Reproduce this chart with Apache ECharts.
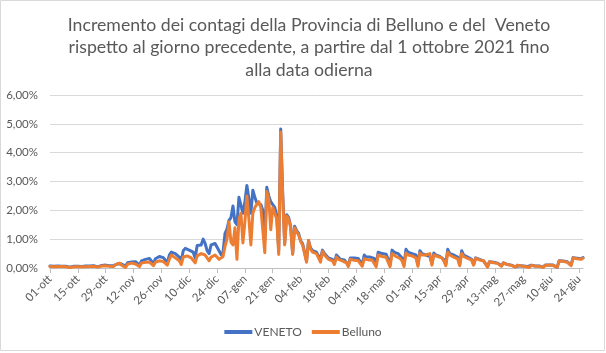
<!DOCTYPE html>
<html>
<head>
<meta charset="utf-8">
<script src="https://cdn.jsdelivr.net/npm/echarts@6/dist/echarts.min.js"></script>
<style>
html,body{margin:0;padding:0;background:#fff;}
#c{width:606px;height:353px;}
</style>
</head>
<body>
<div id="c"></div>
<script>
// Month names (Italian abbreviations) and number of days, from 1 October 2021 to 26 June 2022
const monthNames = ['ott','nov','dic','gen','feb','mar','apr','mag','giu'];
const monthDays  = [31, 30, 31, 31, 28, 31, 30, 31, 26];

// Daily increment (%) — VENETO
const veneto = [
0.07,0.06,0.06,0.03,0.07,0.07,0.06,
0.06,0.06,0.05,0.03,0.06,0.06,0.06,
0.06,0.06,0.05,0.03,0.07,0.07,0.07,
0.08,0.08,0.07,0.04,0.09,0.09,0.10,
0.10,0.10,0.08,0.05,0.08,0.13,0.14,
0.15,0.14,0.12,0.07,0.18,0.20,0.21,
0.22,0.22,0.18,0.10,0.25,0.28,0.30,
0.35,0.33,0.28,0.15,0.32,0.35,0.40,
0.38,0.36,0.30,0.18,0.45,0.55,0.57,
0.50,0.45,0.38,0.25,0.60,0.68,0.66,
0.62,0.60,0.55,0.35,0.78,0.75,0.80,
1.00,0.85,0.60,0.50,0.80,0.82,0.85,
0.85,0.60,0.47,0.55,1.20,1.35,1.65,
1.75,2.15,1.60,1.50,2.45,2.50,1.90,
2.30,2.86,2.40,1.90,2.70,2.45,2.25,
2.20,2.20,2.00,1.00,2.80,2.50,2.30,
2.20,2.10,1.80,0.60,4.82,2.60,0.85,
1.85,1.75,1.45,0.50,1.45,1.30,1.20,
0.95,0.85,0.80,0.25,0.95,0.70,0.60,
0.60,0.55,0.50,0.30,0.62,0.50,0.45,
0.35,0.30,0.30,0.18,0.45,0.40,0.30,
0.30,0.28,0.25,0.10,0.35,0.35,0.35,
0.35,0.33,0.30,0.12,0.45,0.38,0.38,
0.38,0.36,0.33,0.12,0.55,0.50,0.50,
0.50,0.48,0.45,0.12,0.62,0.55,0.52,
0.50,0.45,0.35,0.12,0.65,0.55,0.52,
0.50,0.48,0.45,0.12,0.60,0.50,0.48,
0.45,0.45,0.40,0.15,0.52,0.45,0.42,
0.40,0.38,0.30,0.12,0.65,0.50,0.45,
0.45,0.42,0.38,0.12,0.60,0.45,0.40,
0.38,0.35,0.30,0.12,0.35,0.33,0.30,
0.28,0.25,0.22,0.05,0.22,0.20,0.20,
0.18,0.17,0.15,0.08,0.18,0.15,0.12,
0.10,0.10,0.08,0.04,0.10,0.08,0.08,
0.07,0.06,0.05,0.02,0.10,0.08,0.07,
0.08,0.07,0.06,0.03,0.10,0.10,0.10,
0.10,0.10,0.05,0.02,0.25,0.25,0.24,
0.25,0.22,0.18,0.10,0.36,0.35,0.34,
0.33,0.32,0.36
];

// Daily increment (%) — Belluno
const belluno = [
0.05,0.05,0.04,0.02,0.05,0.04,0.05,
0.04,0.04,0.04,0.02,0.05,0.04,0.04,
0.04,0.05,0.04,0.02,0.04,0.05,0.05,
0.05,0.06,0.05,0.03,0.06,0.07,0.07,
0.08,0.08,0.06,0.03,0.05,0.12,0.15,
0.17,0.10,0.07,0.02,0.13,0.16,0.17,
0.16,0.14,0.10,0.05,0.17,0.18,0.20,
0.22,0.20,0.15,0.08,0.20,0.24,0.25,
0.25,0.22,0.18,0.10,0.30,0.45,0.50,
0.35,0.30,0.25,0.12,0.38,0.40,0.42,
0.38,0.35,0.30,0.18,0.42,0.45,0.50,
0.55,0.45,0.35,0.25,0.38,0.40,0.45,
0.42,0.30,0.35,0.40,0.75,1.00,1.60,
0.90,0.80,1.40,0.30,1.70,1.90,0.87,
1.60,2.50,1.70,0.80,1.90,2.10,2.15,
2.30,2.10,2.10,0.53,2.65,2.40,1.33,
2.10,2.10,1.70,0.47,4.72,2.50,0.80,
1.80,1.70,1.40,0.47,1.40,1.25,1.15,
0.93,0.80,0.75,0.20,0.95,0.65,0.55,
0.55,0.50,0.45,0.20,0.58,0.45,0.40,
0.30,0.25,0.25,0.12,0.38,0.30,0.25,
0.25,0.22,0.18,0.05,0.30,0.28,0.27,
0.27,0.25,0.22,0.06,0.32,0.28,0.28,
0.30,0.28,0.25,0.04,0.45,0.40,0.40,
0.40,0.37,0.33,0.05,0.50,0.45,0.40,
0.40,0.33,0.25,0.05,0.52,0.45,0.42,
0.42,0.40,0.35,0.06,0.52,0.45,0.45,
0.45,0.48,0.50,0.10,0.45,0.42,0.40,
0.38,0.35,0.25,0.08,0.55,0.45,0.40,
0.38,0.35,0.32,0.08,0.50,0.40,0.35,
0.33,0.30,0.27,0.10,0.33,0.30,0.28,
0.28,0.25,0.20,0.03,0.22,0.20,0.18,
0.18,0.16,0.14,0.06,0.18,0.14,0.12,
0.10,0.09,0.08,0.03,0.10,0.08,0.07,
0.06,0.05,0.05,0.02,0.09,0.07,0.06,
0.07,0.06,0.06,0.02,0.09,0.09,0.10,
0.09,0.09,0.04,0.02,0.24,0.24,0.23,
0.24,0.20,0.17,0.08,0.35,0.33,0.32,
0.31,0.30,0.34
];

const yTicks = [0, 1, 2, 3, 4, 5, 6];

// Build the category labels (dd-mmm)
const categories = [];
monthNames.forEach((m, i) => {
  for (let d = 1; d <= monthDays[i]; d++) {
    categories.push((d < 10 ? '0' + d : '' + d) + '-' + m);
  }
});

const FONT = 'Lato';
const chart = echarts.init(document.getElementById('c'), null, {renderer: 'canvas'});
chart.setOption({
  animation: false,
  backgroundColor: '#ffffff',
  title: {
    text: 'Incremento dei contagi della Provincia di Belluno e del  Veneto\nrispetto al giorno precedente, a partire dal 1 ottobre 2021 fino\nalla data odierna',
    left: 304,
    top: 9,
    textAlign: 'center',
    textStyle: {
      fontFamily: FONT, fontSize: 17.7, fontWeight: 'normal', color: '#595959', lineHeight: 22.5, align: 'center'
    }
  },
  graphic: [{
    type: 'rect', silent: true, z: -1,
    shape: {x: 0.5, y: 0.5, width: 604, height: 350},
    style: {fill: null, stroke: '#d9d9d9', lineWidth: 1}
  }],
  legend: {
    bottom: 10,
    left: 'center',
    itemGap: 10,
    itemWidth: 28,
    itemHeight: 4,
    icon: 'rect',
    textStyle: {fontFamily: FONT, fontSize: 12, color: '#595959', padding: [0, 0, 0, -3]},
    data: ['VENETO', 'Belluno']
  },
  grid: {left: 50, right: 23, top: 95, bottom: 85, containLabel: false},
  xAxis: {
    type: 'category',
    data: categories,
    boundaryGap: false,
    axisLine: {lineStyle: {color: '#bfbfbf', width: 1}},
    axisTick: {show: true, interval: 13, length: 5, lineStyle: {color: '#bfbfbf'}},
    axisLabel: {interval: 13, rotate: 45, fontFamily: FONT, fontSize: 11.5, color: '#595959', margin: 9},
    splitLine: {show: false}
  },
  yAxis: {
    type: 'value',
    min: yTicks[0],
    max: yTicks[yTicks.length - 1],
    interval: 1,
    axisLine: {show: false},
    axisTick: {show: false},
    axisLabel: {
      fontFamily: FONT, fontSize: 11.5, color: '#595959', margin: 12,
      formatter: v => v.toFixed(2).replace('.', ',') + '%'
    },
    splitLine: {lineStyle: {color: '#d9d9d9', width: 1}}
  },
  series: [
    {
      name: 'VENETO', type: 'line', data: veneto, showSymbol: false, symbol: 'none',
      lineStyle: {color: '#4472C4', width: 3, join: 'round', cap: 'round'},
      itemStyle: {color: '#4472C4'}
    },
    {
      name: 'Belluno', type: 'line', data: belluno, showSymbol: false, symbol: 'none',
      lineStyle: {color: '#ED7D31', width: 3, join: 'round', cap: 'round'},
      itemStyle: {color: '#ED7D31'}
    }
  ]
});
</script>
</body>
</html>
